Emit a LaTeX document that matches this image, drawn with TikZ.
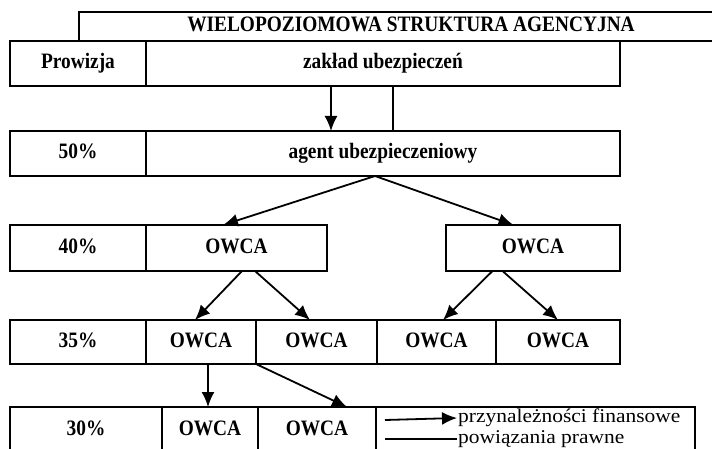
\documentclass[tikz,border=0pt]{standalone}
\usepackage{fontspec}
\setmainfont{Liberation Serif}[FakeStretch=0.88]
\newfontfamily\legfont{Liberation Serif}[FakeStretch=1.1]
\usetikzlibrary{positioning,arrows.meta}

\begin{document}
\begin{tikzpicture}[
  x=1pt, y=-1pt,
  font=\fontsize{22}{24}\selectfont\bfseries,
  cell/.style={draw, line width=1.8pt, inner sep=0pt, outer sep=0pt,
               minimum height=45pt, text height=15pt, text depth=4pt},
  pct/.style={cell, minimum width=136pt},
  arr/.style={-{Latex[length=15pt,width=13pt]}, line width=1.8pt},
  legal/.style={line width=1.2pt},
  legtext/.style={font=\legfont\fontsize{19.5}{21}\selectfont, inner sep=1pt, anchor=west},
]
\useasboundingbox (0,0) rectangle (712,449);
\clip (0,0) rectangle (712,449);
% title frame, open to the right
\node[cell, anchor=north west, minimum width=664pt, minimum height=29pt] (title) at (79,12) {WIELOPOZIOMOWA STRUKTURA AGENCYJNA};
% row 1
\node[pct, anchor=north west] (prow) at (10,41) {Prowizja};
\node[cell, right=0pt of prow, minimum width=474pt] (zaklad) {zakład ubezpieczeń};
% row 2
\node[pct, anchor=north west] (p50) at (10,131) {50\%};
\node[cell, right=0pt of p50, minimum width=474pt] (agent) {agent ubezpieczeniowy};
% row 3
\node[pct, anchor=north west, minimum height=46pt] (p40) at (10,225) {40\%};
\node[cell, right=0pt of p40, minimum width=181pt, minimum height=46pt] (owA) {OWCA};
\node[cell, anchor=north west, minimum width=174pt, minimum height=46pt] (owB) at (446,225) {OWCA};
% row 4
\node[pct, anchor=north west, minimum height=44pt] (p35) at (10,320) {35\%};
\node[cell, right=0pt of p35, minimum width=110pt, minimum height=44pt] (owAa) {OWCA};
\node[cell, right=0pt of owAa, minimum width=121pt, minimum height=44pt] (owAb) {OWCA};
\node[cell, right=0pt of owAb, minimum width=119pt, minimum height=44pt] (owBa) {OWCA};
\node[cell, right=0pt of owBa, minimum width=124pt, minimum height=44pt] (owBb) {OWCA};
% row 5
\node[pct, anchor=north west, minimum width=152pt, minimum height=46pt] (p30) at (10,407) {30\%};
\node[cell, right=0pt of p30, minimum width=96pt, minimum height=46pt] (owAaa) {OWCA};
\node[cell, right=0pt of owAaa, minimum width=118pt, minimum height=46pt] (owAab) {OWCA};
\node[cell, right=0pt of owAab, minimum width=319pt, minimum height=46pt] (leg) {};
% connections
\draw[arr] ([xshift=-52pt]zaklad.south) -- ([xshift=-52pt]agent.north);
\draw[legal] ([xshift=10pt]zaklad.south) -- ([xshift=10pt]agent.north);
\draw[arr] ([xshift=-8pt]agent.south) -- ([xshift=-13.5pt]owA.north);
\draw[arr] ([xshift=-8pt]agent.south) -- ([xshift=-19.5pt]owB.north);
\draw[arr] ([xshift=5.5pt]owA.south) -- ([xshift=-6pt]owAa.north);
\draw[arr] ([xshift=18.5pt]owA.south) -- ([xshift=-6.5pt]owAb.north);
\draw[arr] ([xshift=-40.5pt]owB.south) -- ([xshift=6.5pt]owBa.north);
\draw[arr] ([xshift=-30.5pt]owB.south) -- (owBb.north);
\draw[arr] ([xshift=7pt]owAa.south) -- ([xshift=-2pt]owAaa.north);
\draw[arr] (owAa.south east) -- ([xshift=30pt]owAab.north);
% legend
\node[legtext] (fin) at (457,418) {przynależności finansowe};
\node[legtext] (praw) at (457,439) {powiązania prawne};
\coordinate (fin0) at (385,420);
\coordinate (praw0) at (385,439);
\draw[arr] (fin0) -- (fin.west);
\draw[legal] (praw0) -- (praw.west);
\end{tikzpicture}
\end{document}
